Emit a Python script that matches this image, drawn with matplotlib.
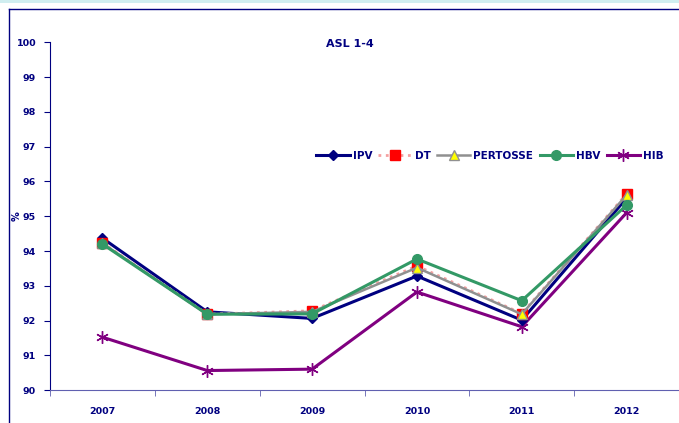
import matplotlib
matplotlib.use("Agg")
import matplotlib.pyplot as plt
import matplotlib.patches as patches
import numpy as np

years = ["2007", "2008", "2009", "2010", "2011", "2012"]
ipv = [94.37, 92.25, 92.06, 93.28, 92.01, 95.52]
dt = [94.24, 92.18, 92.28, 93.57, 92.20, 95.64]
pertosse = [94.22, 92.18, 92.25, 93.52, 92.18, 95.61]
hbv = [94.20, 92.18, 92.19, 93.77, 92.57, 95.32]
hib = [91.52, 90.56, 90.60, 92.82, 91.82, 95.10]

navy = "#000080"

fig = plt.figure(figsize=(6.79, 4.23), dpi=100)
ax = fig.add_axes([50/679, 1-390/423, 1-50/679, (390-42.5)/423])

x = np.arange(len(years))
ax.plot(x, ipv, color=navy, lw=2.2, marker="D", ms=5, mfc=navy, mec=navy, label="IPV", zorder=3)
ax.plot(x, dt, color="#f4a0a0", lw=2, ls=":", marker="s", ms=7, mfc="red", mec="red", label="DT", zorder=4)
ax.plot(x, pertosse, color="#909090", lw=1.8, marker="^", ms=7, mfc="yellow", mec="#909090", label="PERTOSSE", zorder=5)
ax.plot(x, hbv, color="#339966", lw=2.2, marker="o", ms=7, mfc="#339966", mec="#339966", label="HBV", zorder=6)
ax.plot(x, hib, color="#800080", lw=2.2, marker=(6, 2, 0), ms=9, mfc="#800080", mec="#800080", label="HIB", zorder=2)

ax.set_xlim(-0.5, len(years) - 0.5)
ax.set_ylim(90, 100)
ax.set_yticks(range(90, 101))
ax.set_xticks(x)
ax.set_xticklabels(years)
ax.set_xticks(np.arange(-0.5, len(years)), minor=True)
ax.tick_params(axis="x", which="major", length=0, pad=12)
ax.tick_params(axis="x", which="minor", length=4, color="#6060b0", direction="out")
ax.tick_params(axis="y", length=4, color=navy, direction="out", pad=6)
for lab in ax.get_xticklabels() + ax.get_yticklabels():
    lab.set_fontsize(6.8)
    lab.set_fontweight("bold")
    lab.set_color(navy)

for s in ["top", "right"]:
    ax.spines[s].set_visible(False)
ax.spines["left"].set_color(navy)
ax.spines["bottom"].set_color("#6060b0")

fig.text(17/679, 1-216/423, "%", fontsize=7, fontweight="bold", color=navy,
         rotation=90, ha="center", va="center")
fig.text(350/679, 1-44/423, "ASL 1-4", fontsize=8, fontweight="bold", color=navy, ha="center", va="center")

leg = ax.legend(loc="center", bbox_to_anchor=((490-50)/629, (390-156)/347.5), ncol=5, frameon=False,
                fontsize=7.5, handlelength=3.2, handletextpad=0.3, columnspacing=0.6)
for t in leg.get_texts():
    t.set_fontweight("bold")
    t.set_color(navy)

# outer chart frame
fig.patches.append(patches.Rectangle((0, 1-3/423), 1, 3/423, transform=fig.transFigure,
                                     facecolor="#d0eef0", edgecolor="none"))
fig.lines.append(plt.Line2D([9/679, 9/679], [0, 1-9/423], transform=fig.transFigure, color=navy, lw=1))
fig.lines.append(plt.Line2D([9/679, 1], [1-9/423, 1-9/423], transform=fig.transFigure, color=navy, lw=1))

plt.savefig("out.png", dpi=100)
